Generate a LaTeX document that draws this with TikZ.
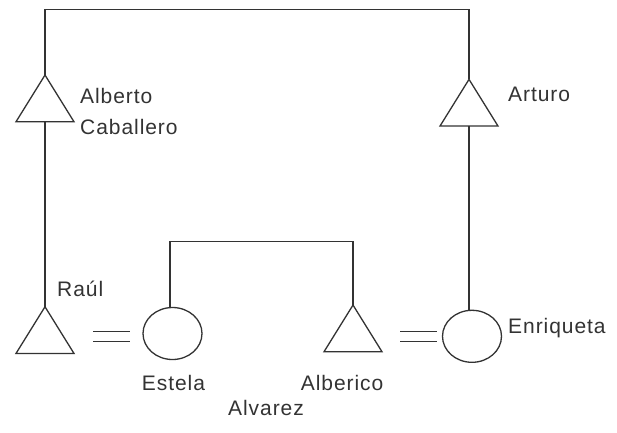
\documentclass[tikz,border=0pt]{standalone}
\usepackage{fontspec}
\setmainfont{Liberation Sans}
\newfontfamily\labelfont{Liberation Sans}[LetterSpace=4.5]
\usetikzlibrary{shapes.geometric}
\definecolor{ink}{HTML}{333333}
\begin{document}
\begin{tikzpicture}[x=1pt,y=-1pt,
  person/.style={draw=ink, line width=1.3pt, fill=white, inner sep=0pt, outer sep=0pt},
  male/.style={person, regular polygon, regular polygon sides=3, minimum size=67pt, yscale=0.93},
  female/.style={person, ellipse, minimum width=59pt, minimum height=52pt},
  link/.style={draw=ink, line width=1.3pt},
  marriage/.style={draw=ink, line width=1.3pt, double=white, double distance=8.4pt},
  lbl/.style={text=ink, inner sep=0pt, anchor=base west, font=\labelfont\fontsize{21}{24}\selectfont}]
\fill[white] (0,0) rectangle (617,432);
\useasboundingbox (0,0) rectangle (617,432);

% persons
\node[male] (alberto) at (45,106.2) {};
\node[male] (arturo) at (469,110.5) {};
\node[male] (raul) at (45,337.9) {};
\node[male] (alberico) at (353,336.2) {};
\node[female] (estela) at (172.5,333.5) {};
\node[female] (enriqueta) at (472,336.3) {};

% descent lines
\coordinate (tl) at (45,9.5);
\coordinate (tr) at (469,9.5);
\draw[link] (alberto.north) -- (tl) -- (tr) -- (arturo.north);
\draw[link] (alberto.south) -- (raul.north);
\draw[link] (arturo.south) -- (arturo.south |- enriqueta.north);
\coordinate (sl) at (170,241.5);
\draw[link] (sl |- estela.north) -- (sl) -- (sl -| alberico.north) -- (alberico.north);

% marriages
\coordinate (m1a) at (93,336.5);
\coordinate (m1b) at (130,336.5);
\coordinate (m2a) at (400,336.5);
\coordinate (m2b) at (437,336.5);
\draw[marriage] (m1a) -- (m1b);
\draw[marriage] (m2a) -- (m2b);

% labels
\node[lbl] (lalberto) at (80,103) {Alberto};
\node[lbl] (lcaballero) at (80,134) {Caballero};
\node[lbl] (larturo) at (508,101.7) {Arturo};
\node[lbl] (lraul) at (57,296.7) {Raúl};
\node[lbl] (lenriqueta) at (508,333) {Enriqueta};
\node[lbl] (lestela) at (141.7,390) {Estela};
\node[lbl] (lalberico) at (300.7,390) {Alberico};
\node[lbl] (lalvarez) at (228,415) {Alvarez};
\end{tikzpicture}
\end{document}
